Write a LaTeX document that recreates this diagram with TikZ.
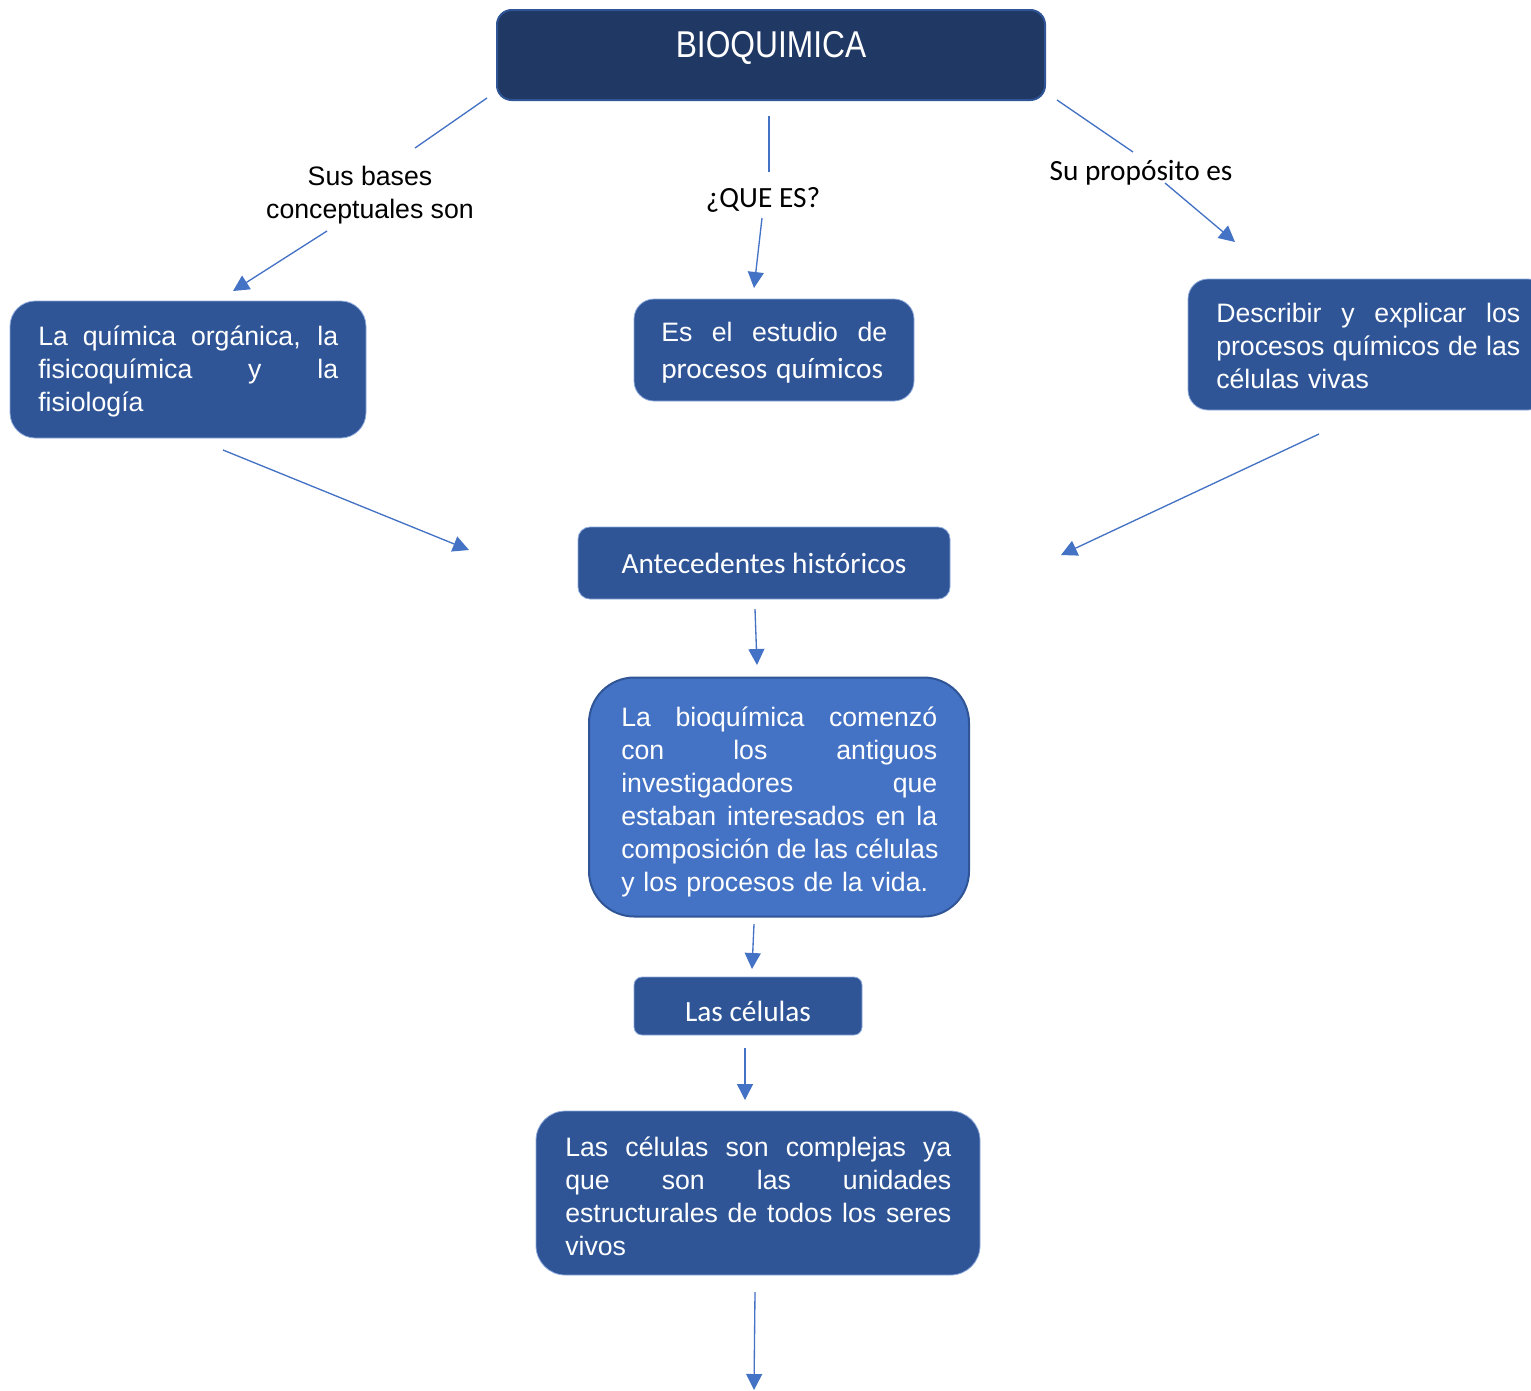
\documentclass[tikz,border=0pt]{standalone}
\usepackage{fontspec}
\setmainfont{Liberation Sans}
\newfontfamily\calfont{Carlito}
\usetikzlibrary{arrows.meta}
\definecolor{navy}{HTML}{203864}
\definecolor{boxblue}{HTML}{2F5597}
\definecolor{midblue}{HTML}{4472C4}
\definecolor{edgeblue}{HTML}{8EA9DB}
\newcommand\arialtxt{\fontsize{20}{24.75}\selectfont}
\newcommand\calitxt{\calfont\fontsize{22}{26}\selectfont}
\newcommand\jl[2]{\leavevmode\hbox to #1{\spaceskip=\fontdimen2\font plus 1fill\relax #2}}
\tikzset{
  box/.style={draw=edgeblue, line width=0.6pt, fill=boxblue, text=white,
    inner sep=0pt, align=center},
  btxt/.style={text=white, inner sep=0pt, anchor=base west, align=left, font=\arialtxt},
  conn/.style={draw=midblue, line width=1pt},
  arr/.style={conn, -{Triangle[length=12pt,width=12pt]}},
  lbl/.style={text=black, inner sep=0pt, align=center}
}
\begin{document}
\begin{tikzpicture}[x=0.75pt,y=-0.75pt]
\useasboundingbox (0,0) rectangle (1531,1390);
\clip (0,0) rectangle (1531,1390);

% boxes
\node[box, fill=navy, draw=boxblue, line width=1.5pt, rounded corners=11pt,
  minimum width=411pt, minimum height=67.5pt,
  font=\fontsize{28}{32}\selectfont, text height=3.8pt, text depth=0pt]
  (bio) at (771,55) {\scalebox{0.85}[1]{BIOQUIMICA}};

\node[box, rounded corners=19pt, minimum width=267pt, minimum height=102.75pt]
  (bases) at (188,369.5) {};
\node[btxt, text width=225pt] (bases-t) at (38,345)
  {\jl{225pt}{La química orgánica, la}\\
   \jl{225pt}{fisicoquímica y la}\\
   fisiología};

\node[box, rounded corners=15pt, minimum width=210pt, minimum height=76.5pt]
  (estudio) at (774,350) {};
\node[btxt, text width=169.5pt] (estudio-t) at (661,341)
  {\jl{169.5pt}{Es el estudio de}\\[3pt]
   {\calitxt procesos químicos}};

\node[box, rounded corners=15pt, minimum width=270pt, minimum height=98.25pt]
  (proposito) at (1368,344.5) {};
\node[btxt, text width=228pt] (proposito-t) at (1216,322)
  {\jl{228pt}{Describir y explicar los}\\
   \jl{228pt}{procesos químicos de las}\\
   células vivas};

\node[box, rounded corners=9pt, minimum width=279pt, minimum height=54pt,
  font=\calitxt] (antec) at (764,563) {Antecedentes históricos};

\node[box, fill=midblue, draw=boxblue, line width=1.5pt, rounded corners=34pt,
  minimum width=285pt, minimum height=179.25pt] (comenzo) at (779,797) {};
\node[btxt, text width=237pt] (comenzo-t) at (621,726)
  {\jl{237pt}{La bioquímica comenzó}\\
   \jl{237pt}{con los antiguos}\\
   \jl{237pt}{investigadores que}\\
   \jl{237pt}{estaban interesados en la}\\
   \jl{237pt}{composición de las células}\\
   y los procesos de la vida.};

\node[box, rounded corners=6pt, minimum width=171pt, minimum height=43.5pt,
  font=\calitxt, text height=23pt, text depth=0pt]
  (celulas) at (748,1006) {Las células};

\node[box, rounded corners=22pt, minimum width=333pt, minimum height=123pt]
  (complejas) at (758,1193) {};
\node[btxt, text width=289.5pt] (complejas-t) at (565,1156)
  {\jl{289.5pt}{Las células son complejas ya}\\
   \jl{289.5pt}{que son las unidades}\\
   \jl{289.5pt}{estructurales de todos los seres}\\
   vivos};

% labels
\node[lbl, font=\arialtxt] (lbases) at (370,195) {Sus bases\\conceptuales son};
\node[lbl, font=\calitxt] (lque) at (763,200) {¿QUE ES?};
\node[lbl, font=\calitxt] (lprop) at (1141,173) {Su propósito es};

% connector end points
\coordinate (c1a) at (487,98);   \coordinate (c1b) at (415,148);
\coordinate (c2a) at (327,231);  \coordinate (c2b) at (233,291);
\coordinate (c3a) at (769,116);  \coordinate (c3b) at (769,172);
\coordinate (c4a) at (762,218);  \coordinate (c4b) at (754,288);
\coordinate (c5a) at (1057,100); \coordinate (c5b) at (1133,152);
\coordinate (c6a) at (1165,183); \coordinate (c6b) at (1235,242);
\coordinate (c7a) at (223,450);  \coordinate (c7b) at (469,550);
\coordinate (c8a) at (1319,434); \coordinate (c8b) at (1061,555);
\coordinate (c9a) at (755,609);  \coordinate (c9b) at (757,665);
\coordinate (c10a) at (754,924); \coordinate (c10b) at (752,969);
\coordinate (c11a) at (745,1048);\coordinate (c11b) at (745,1100);
\coordinate (c12a) at (755,1292);\coordinate (c12b) at (754,1390);

% connectors
\draw[conn] (c1a) -- (c1b);
\draw[arr] (c2a) -- (c2b);
\draw[conn] (c3a) -- (c3b);
\draw[arr] (c4a) -- (c4b);
\draw[conn] (c5a) -- (c5b);
\draw[arr] (c6a) -- (c6b);
\draw[arr] (c7a) -- (c7b);
\draw[arr] (c8a) -- (c8b);
\draw[arr] (c9a) -- (c9b);
\draw[arr] (c10a) -- (c10b);
\draw[arr] (c11a) -- (c11b);
\draw[arr] (c12a) -- (c12b);
\end{tikzpicture}
\end{document}
